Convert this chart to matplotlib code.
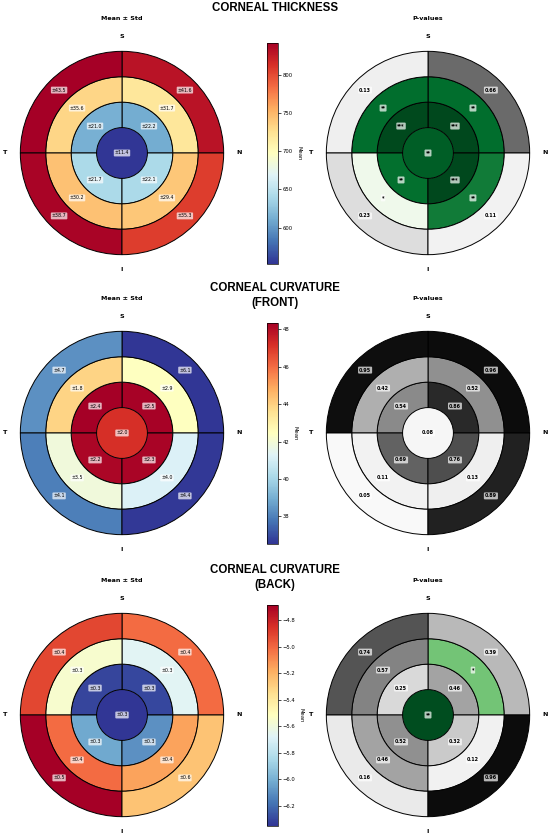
import numpy as np
import matplotlib
matplotlib.use("Agg")
import matplotlib.pyplot as plt
from matplotlib import colors as mcolors
from matplotlib.ticker import MultipleLocator

# quadrant order: S-N (top right), S-T (top left), I-T (bottom left), I-N (bottom right)
quad_theta = np.deg2rad([45, 135, 225, 315])
ring_bottom = [0.25, 0.5, 0.75]   # inner, middle, outer

# --- corneal thickness ---
thick_center_mean = 553
thick_center_std = 11.4
thick_center_p = 0.004
thick_mean = [[611, 613, 641, 640], [720, 732, 744, 741], [830, 842, 839, 807]]
thick_std = [[22.2, 21.0, 21.7, 22.1], [31.7, 35.6, 30.2, 29.4], [41.6, 43.5, 38.7, 35.3]]
thick_p = [[0.0007, 0.0008, 0.007, 0.0007], [0.0065, 0.0065, 0.047, 0.0093], [0.66, 0.13, 0.23, 0.11]]

# --- corneal curvature front ---
front_center_mean = 47.2
front_center_std = 2.0
front_center_p = 0.08
front_mean = [[48.3, 48.37, 48.2, 48.25], [42.45, 43.9, 41.9, 41.2], [36.54, 38.3, 37.95, 36.6]]
front_std = [[2.5, 2.4, 2.2, 2.3], [2.9, 1.8, 3.5, 4.0], [6.1, 4.7, 4.1, 4.4]]
front_p = [[0.86, 0.54, 0.69, 0.76], [0.52, 0.42, 0.11, 0.13], [0.96, 0.95, 0.05, 0.89]]

# --- corneal curvature back ---
back_center_mean = -6.35
back_center_std = 0.3
back_center_p = 0.0015
back_mean = [[-6.30, -6.31, -6.03, -6.10], [-5.67, -5.56, -5.01, -5.15], [-5.01, -4.91, -4.68, -5.25]]
back_std = [[0.3, 0.3, 0.3, 0.3], [0.3, 0.3, 0.4, 0.4], [0.4, 0.4, 0.5, 0.6]]
back_p = [[0.46, 0.25, 0.52, 0.32], [0.025, 0.57, 0.46, 0.12], [0.39, 0.74, 0.16, 0.96]]

row_titles = ["CORNEAL THICKNESS", "CORNEAL CURVATURE\n(FRONT)", "CORNEAL CURVATURE\n(BACK)"]
cbar_steps = [50, 2, 0.2]

W, H = 550, 836
fig = plt.figure(figsize=(W / 100, H / 100), dpi=100)


def px_axes(left, top, w, h, **kw):
    return fig.add_axes([left / W, 1 - (top + h) / H, w / W, h / H], **kw)


def p_label(p):
    if p < 0.001:
        return "***"
    if p < 0.01:
        return "**"
    if p < 0.05:
        return "*"
    return "%.2f" % p


def p_color(p):
    if p < 0.05:
        return plt.cm.Greens(1 - p / 0.05)
    return plt.cm.Greys(p)


box = dict(boxstyle="round,pad=0.2", facecolor="white", alpha=0.7, edgecolor="none")


def setup_polar(ax, title):
    ax.set_ylim(0, 1.2)
    ax.set_axis_off()
    ax.text(0.5, 1.053, title, transform=ax.transAxes, ha="center", va="center",
            fontsize=4.6, fontweight="bold")
    for ang, lab in zip([90, 180, 0, 270], ["S", "T", "N", "I"]):
        ax.text(np.deg2rad(ang), 1.15, lab, ha="center", va="center",
                fontsize=4.6, fontweight="bold")


def draw_row(cy, title, c_mean, c_std, c_p, mean, std, pval, step):
    allm = [c_mean] + [v for r in mean for v in r]
    norm = mcolors.Normalize(vmin=min(allm), vmax=max(allm))
    cmap = plt.cm.RdYlBu_r

    # mean +- std
    ax = px_axes(0, cy - 122, 244, 244, projection="polar")
    ax.bar(0, 0.25, width=2 * np.pi, bottom=0, color=cmap(norm(c_mean)), linewidth=0)
    ax.text(0, 0, "±%.1f" % c_std, ha="center", va="center", fontsize=3.4, bbox=box)
    for i, b in enumerate(ring_bottom):
        ax.bar(quad_theta, 0.25, width=np.pi / 2, bottom=b, color=cmap(norm(mean[i])),
               edgecolor="black", linewidth=0.7)
        for th, s in zip(quad_theta, std[i]):
            ax.text(th, b + 0.125, "±%.1f" % s, ha="center", va="center", fontsize=3.4, bbox=box)
    setup_polar(ax, "Mean ± Std")

    # colorbar
    cax = px_axes(267, cy - 110.5, 11, 221)
    sm = plt.cm.ScalarMappable(norm=norm, cmap=cmap)
    cb = fig.colorbar(sm, cax=cax)
    cb.locator = MultipleLocator(step)
    cb.update_ticks()
    cb.ax.tick_params(labelsize=3.8, length=2, width=0.5, pad=1.5)
    cb.outline.set_linewidth(0.5)
    cb.set_label("Mean", fontsize=3.8, rotation=270, labelpad=6)

    # p-values
    ax2 = px_axes(306, cy - 122, 244, 244, projection="polar")
    ax2.bar(0, 0.25, width=2 * np.pi, bottom=0, color=p_color(c_p), linewidth=0)
    ax2.text(0, 0, p_label(c_p), ha="center", va="center", fontsize=3.5,
             fontweight="bold", bbox=box)
    for i, b in enumerate(ring_bottom):
        ax2.bar(quad_theta, 0.25, width=np.pi / 2, bottom=b,
                color=[p_color(p) for p in pval[i]], edgecolor="black", linewidth=0.7)
        for th, p in zip(quad_theta, pval[i]):
            ax2.text(th, b + 0.125, p_label(p), ha="center", va="center", fontsize=3.5,
                     fontweight="bold", bbox=box)
    setup_polar(ax2, "P-values")

    fig.text(0.5, 1 - (cy - 151) / H, title, ha="center", va="top", fontsize=8.3,
             fontweight="bold", family="Liberation Sans", linespacing=1.3)


draw_row(153, row_titles[0], thick_center_mean, thick_center_std, thick_center_p,
         thick_mean, thick_std, thick_p, cbar_steps[0])
draw_row(433, row_titles[1], front_center_mean, front_center_std, front_center_p,
         front_mean, front_std, front_p, cbar_steps[1])
draw_row(715, row_titles[2], back_center_mean, back_center_std, back_center_p,
         back_mean, back_std, back_p, cbar_steps[2])

fig.savefig("out.png", dpi=100, facecolor="white")
